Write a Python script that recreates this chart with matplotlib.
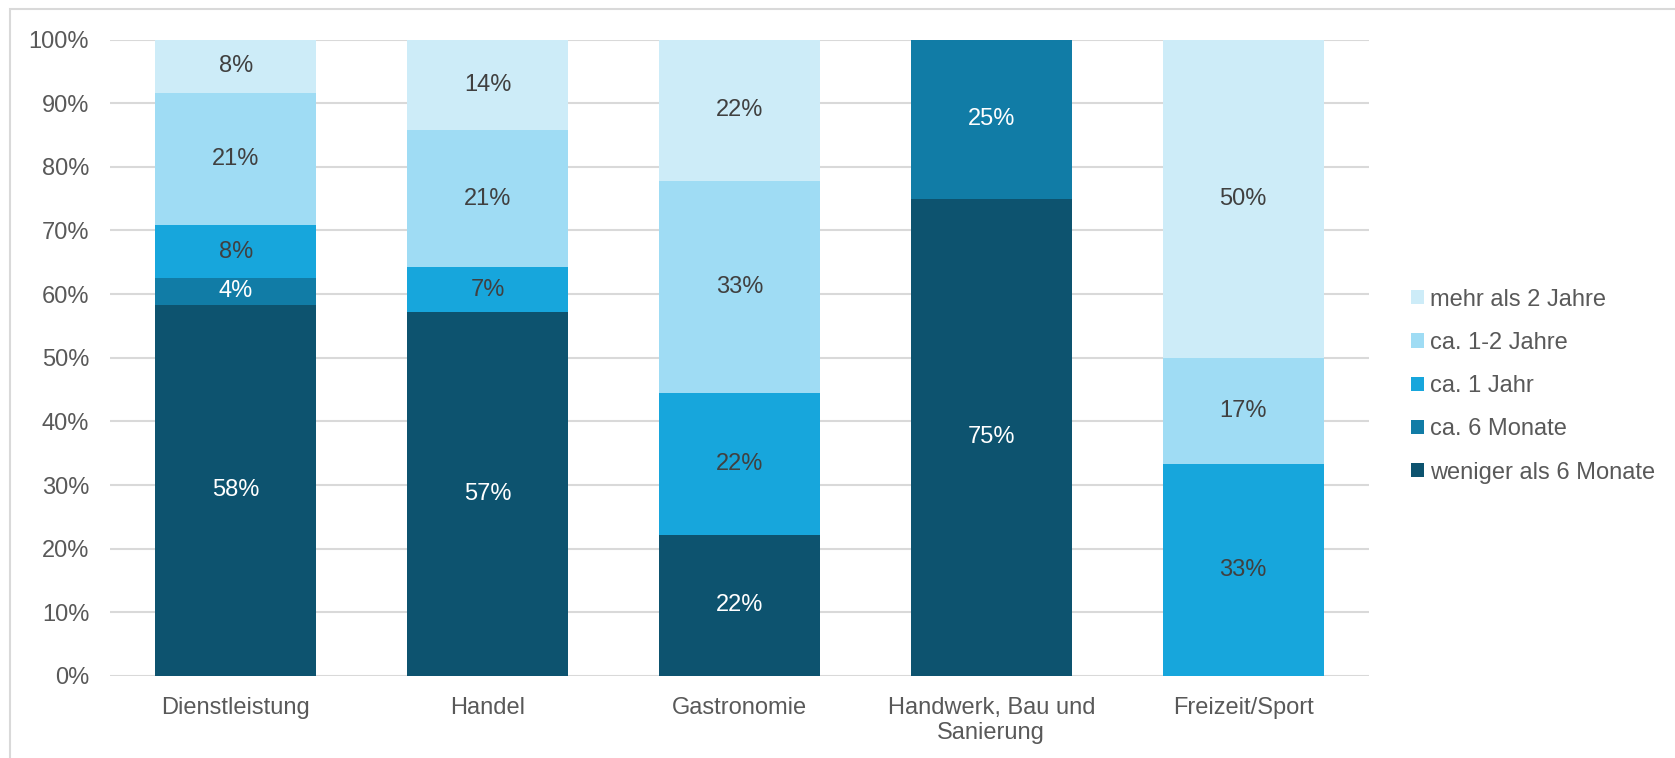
import numpy as np
import matplotlib
matplotlib.use("Agg")
import matplotlib.pyplot as plt
from matplotlib.patches import Rectangle
from matplotlib.ticker import PercentFormatter

plt.rcParams['font.family'] = ['Liberation Sans', 'DejaVu Sans']

categories = ["Dienstleistung", "Handel", "Gastronomie",
              "Handwerk, Bau und\nSanierung", "Freizeit/Sport"]
series_names = ["weniger als 6 Monate", "ca. 6 Monate", "ca. 1 Jahr",
                "ca. 1-2 Jahre", "mehr als 2 Jahre"]

weniger_6m = [58.33, 57.14, 22.22, 75.0, 0.0]
ca_6m = [4.17, 0.0, 0.0, 25.0, 0.0]
ca_1j = [8.33, 7.14, 22.22, 0.0, 33.33]
ca_1_2j = [20.83, 21.43, 33.33, 0.0, 16.67]
mehr_2j = [8.33, 14.29, 22.22, 0.0, 50.0]

series = [weniger_6m, ca_6m, ca_1j, ca_1_2j, mehr_2j]
colors = ["#0d536f", "#117ca6", "#17a6dc", "#9fdcf4", "#cdecf8"]
text_colors = ["white", "white", "#404040", "#404040", "#404040"]

fs = 17

fig = plt.figure(figsize=(16.75, 7.58), dpi=100)

# light frame around the chart (cut off on right/bottom as in the source)
fig.patches.append(Rectangle((10 / 1675, -0.05), 1.2, 1 - 9 / 758 + 0.05,
                             transform=fig.transFigure, fill=False,
                             edgecolor="#d9d9d9", linewidth=1.5))

ax = fig.add_axes([110 / 1675, 1 - 676 / 758, (1369 - 110) / 1675, (676 - 39.5) / 758])

x = np.arange(len(categories))
bottom = np.zeros(len(categories))
handles = []
for vals, name, col, tcol in zip(series, series_names, colors, text_colors):
    vals = np.array(vals)
    bars = ax.bar(x, vals, 0.64, bottom=bottom, color=col, label=name,
                  edgecolor="none", zorder=3)
    handles.append(bars)
    for xi, v, b in zip(x, vals, bottom):
        if v > 0:
            ax.text(xi, b + v / 2, f"{v:.0f}%", ha="center", va="center",
                    color=tcol, fontsize=fs, zorder=4)
    bottom += vals

ax.set_xlim(-0.5, 4.5)
ax.set_ylim(0, 100)
ax.set_yticks(np.arange(0, 101, 10))
ax.yaxis.set_major_formatter(PercentFormatter(decimals=0))
ax.grid(axis="y", color="#d9d9d9", linewidth=1.5, zorder=0)
ax.set_axisbelow(True)
for s in ax.spines.values():
    s.set_visible(False)
ax.set_xticks(x)
ax.set_xticklabels(categories)
ax.tick_params(axis="y", length=0, pad=15, labelsize=fs, labelcolor="#595959")
ax.tick_params(axis="x", length=0, pad=15, labelsize=fs, labelcolor="#595959")

leg = fig.legend(handles[::-1], series_names[::-1], loc="center left",
                 bbox_to_anchor=(1390 / 1675, 1 - 386 / 758), frameon=False,
                 fontsize=fs, handlelength=0.55, handleheight=0.55,
                 handletextpad=0.25, labelspacing=0.9)
for t in leg.get_texts():
    t.set_color("#595959")

plt.savefig("out.png", dpi=100)
